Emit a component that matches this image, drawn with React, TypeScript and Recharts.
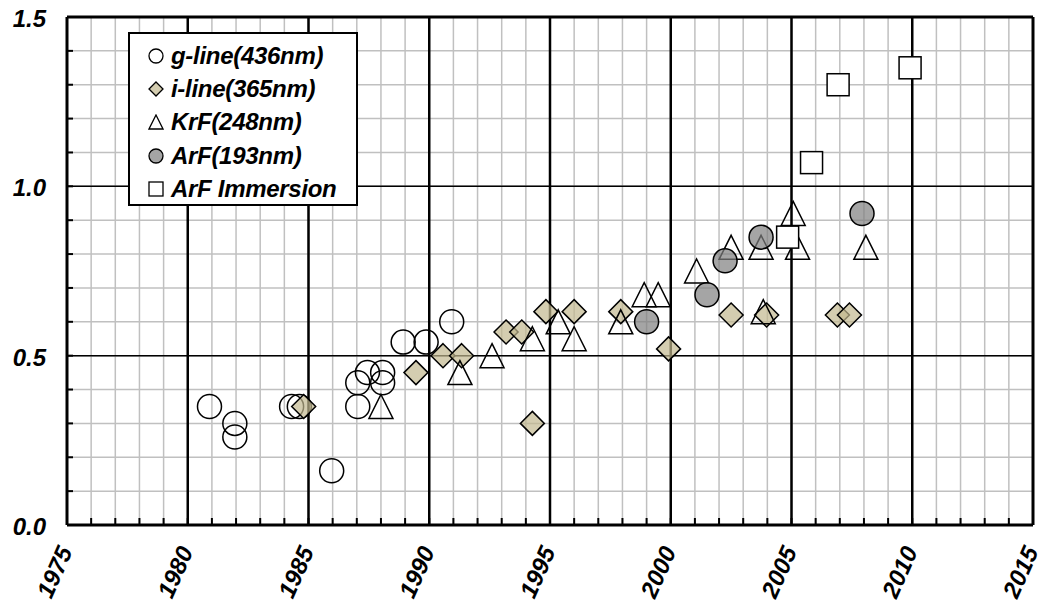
import React from "react";
import {
  ScatterChart,
  Scatter,
  XAxis,
  YAxis,
  CartesianGrid,
  ReferenceLine,
  Legend,
} from "recharts";

// ---- data (year, value) ----
const gLine = [
  { x: 1980.9, y: 0.35 },
  { x: 1981.95, y: 0.3 },
  { x: 1981.95, y: 0.26 },
  { x: 1984.3, y: 0.35 },
  { x: 1984.62, y: 0.35 },
  { x: 1985.96, y: 0.16 },
  { x: 1987.04, y: 0.42 },
  { x: 1987.04, y: 0.35 },
  { x: 1987.44, y: 0.45 },
  { x: 1988.07, y: 0.45 },
  { x: 1988.07, y: 0.42 },
  { x: 1988.92, y: 0.54 },
  { x: 1989.87, y: 0.54 },
  { x: 1990.93, y: 0.6 },
];

const iLine = [
  { x: 1984.8, y: 0.35 },
  { x: 1989.45, y: 0.45 },
  { x: 1990.57, y: 0.5 },
  { x: 1991.34, y: 0.5 },
  { x: 1993.18, y: 0.57 },
  { x: 1993.83, y: 0.57 },
  { x: 1994.27, y: 0.3 },
  { x: 1994.83, y: 0.63 },
  { x: 1996.0, y: 0.63 },
  { x: 1997.93, y: 0.63 },
  { x: 1999.91, y: 0.52 },
  { x: 2002.5, y: 0.62 },
  { x: 2003.97, y: 0.62 },
  { x: 2006.9, y: 0.62 },
  { x: 2007.4, y: 0.62 },
];

const krf = [
  { x: 1988.0, y: 0.35 },
  { x: 1991.27, y: 0.45 },
  { x: 1992.6, y: 0.5 },
  { x: 1994.27, y: 0.55 },
  { x: 1995.34, y: 0.6 },
  { x: 1996.0, y: 0.55 },
  { x: 1997.93, y: 0.6 },
  { x: 1998.9, y: 0.68 },
  { x: 1999.48, y: 0.68 },
  { x: 2001.07, y: 0.75 },
  { x: 2002.5, y: 0.82 },
  { x: 2003.74, y: 0.82 },
  { x: 2003.83, y: 0.63 },
  { x: 2005.07, y: 0.92 },
  { x: 2005.25, y: 0.82 },
  { x: 2008.08, y: 0.82 },
];

const arf = [
  { x: 1999.0, y: 0.6 },
  { x: 2001.5, y: 0.68 },
  { x: 2002.25, y: 0.78 },
  { x: 2003.74, y: 0.85 },
  { x: 2007.92, y: 0.92 },
];

const arfImmersion = [
  { x: 2004.84, y: 0.85 },
  { x: 2005.83, y: 1.07 },
  { x: 2006.93, y: 1.3 },
  { x: 2009.91, y: 1.35 },
];

const seriesNames = [
  "g-line(436nm)",
  "i-line(365nm)",
  "KrF(248nm)",
  "ArF(193nm)",
  "ArF Immersion",
];

const xTicks = [
  1975, 1976, 1977, 1978, 1979, 1980, 1981, 1982, 1983, 1984, 1985, 1986,
  1987, 1988, 1989, 1990, 1991, 1992, 1993, 1994, 1995, 1996, 1997, 1998,
  1999, 2000, 2001, 2002, 2003, 2004, 2005, 2006, 2007, 2008, 2009, 2010,
  2011, 2012, 2013, 2014, 2015,
];
const xMajor = [1980, 1985, 1990, 1995, 2000, 2005, 2010];
const yTicks = [
  0, 0.1, 0.2, 0.3, 0.4, 0.5, 0.6, 0.7, 0.8, 0.9, 1.0, 1.1, 1.2, 1.3, 1.4, 1.5,
];
const yLabeled = [0, 0.5, 1.0, 1.5];
const yMajor = [0.5, 1.0];

const FONT = "'Liberation Sans', Arial, sans-serif";

const DIAMOND_FILL = "#c2b88e";
const ARF_FILL = "#7f7f7f";

// ---- marker shapes ----
const CircleOpen = (p: any) => (
  <circle cx={p.cx} cy={p.cy} r={12} fill="none" stroke="#000" strokeWidth={1.5} />
);
const Diamond = (p: any) => (
  <polygon
    points={`${p.cx},${p.cy - 12} ${p.cx + 12},${p.cy} ${p.cx},${p.cy + 12} ${p.cx - 12},${p.cy}`}
    fill={DIAMOND_FILL}
    fillOpacity={0.7}
    stroke="#000"
    strokeWidth={1.5}
  />
);
const Triangle = (p: any) => (
  <polygon
    points={`${p.cx},${p.cy - 12} ${p.cx + 12},${p.cy + 12} ${p.cx - 12},${p.cy + 12}`}
    fill="none"
    stroke="#000"
    strokeWidth={1.5}
  />
);
const CircleGray = (p: any) => (
  <circle
    cx={p.cx}
    cy={p.cy}
    r={12}
    fill={ARF_FILL}
    fillOpacity={0.7}
    stroke="#000"
    strokeWidth={1.5}
  />
);
const Square = (p: any) => (
  <rect
    x={p.cx - 11}
    y={p.cy - 11}
    width={22}
    height={22}
    fill="#fff"
    stroke="#000"
    strokeWidth={1.5}
  />
);

// ---- ticks ----
const XTick = (props: any) => {
  const { x, y, payload } = props;
  const v = payload.value;
  const major = Math.round(v) % 5 === 0;
  const tx = x + 6;
  const ty = y + 26;
  return (
    <g>
      <line x1={x} x2={x} y1={y} y2={y - 7} stroke="#000" strokeWidth={2} />
      {major && (
        <text
          x={tx}
          y={ty}
          textAnchor="end"
          transform={`rotate(-66 ${tx} ${ty})`}
          fontFamily={FONT}
          fontWeight="bold"
          fontStyle="italic"
          fontSize={24}
          fill="#000"
        >
          {v}
        </text>
      )}
    </g>
  );
};

const YTick = (props: any) => {
  const { x, y, payload } = props;
  const v = payload.value;
  const labeled = yLabeled.some((t) => Math.abs(t - v) < 1e-6);
  return (
    <g>
      <line x1={x} x2={x + 6} y1={y} y2={y} stroke="#000" strokeWidth={2} />
      {labeled && (
        <text
          x={x - 21}
          y={y + 10}
          textAnchor="end"
          fontFamily={FONT}
          fontWeight="bold"
          fontStyle="italic"
          fontSize={24}
          fill="#000"
        >
          {v.toFixed(1)}
        </text>
      )}
    </g>
  );
};

// ---- legend ----
const legendIcons = [
  <circle cx={8} cy={8} r={7} fill="#fff" stroke="#000" strokeWidth={1.3} />,
  <polygon points="8,1 15,8 8,15 1,8" fill={DIAMOND_FILL} fillOpacity={0.7} stroke="#000" strokeWidth={1.3} />,
  <polygon points="8,1 15,15 1,15" fill="#fff" stroke="#000" strokeWidth={1.3} />,
  <circle cx={8} cy={8} r={7} fill={ARF_FILL} fillOpacity={0.7} stroke="#000" strokeWidth={1.3} />,
  <rect x={1} y={1} width={14} height={14} fill="#fff" stroke="#000" strokeWidth={1.3} />,
];

const LegendBox = () => (
  <div
    style={{
      boxSizing: "border-box",
      width: 230,
      height: 174,
      border: "2px solid #000",
      background: "#fff",
      paddingTop: 5,
      paddingLeft: 18,
    }}
  >
    {seriesNames.map((name, i) => (
      <div
        key={name}
        style={{
          display: "flex",
          alignItems: "center",
          height: 33.3,
          fontFamily: FONT,
          fontWeight: "bold",
          fontStyle: "italic",
          fontSize: 24,
          letterSpacing: -0.3,
          color: "#000",
          whiteSpace: "nowrap",
        }}
      >
        <svg width={16} height={16} style={{ marginRight: 7, flex: "none" }}>
          {legendIcons[i]}
        </svg>
        <span>{name}</span>
      </div>
    ))}
  </div>
);

export default function App() {
  return (
    <div style={{ position: "absolute", left: 0, top: 0, width: 1044, height: 606, background: "#fff" }}>
      <ScatterChart
        width={1044}
        height={606}
        margin={{ top: 17, right: 11, bottom: 1, left: 0 }}
      >
        <CartesianGrid stroke="#c0c0c0" strokeWidth={1.5} />
        <XAxis
          type="number"
          dataKey="x"
          domain={[1975, 2015]}
          ticks={xTicks}
          interval={0}
          height={80}
          tickSize={0}
          tickMargin={0}
          tickLine={false}
          axisLine={{ stroke: "#000", strokeWidth: 3 }}
          tick={<XTick />}
          allowDataOverflow
        />
        <YAxis
          type="number"
          dataKey="y"
          domain={[0, 1.5]}
          ticks={yTicks}
          interval={0}
          width={67}
          tickSize={0}
          tickMargin={0}
          tickLine={false}
          axisLine={{ stroke: "#000", strokeWidth: 3 }}
          tick={<YTick />}
          allowDataOverflow
        />
        {xMajor.map((v) => (
          <ReferenceLine key={`xm${v}`} x={v} stroke="#000" strokeWidth={2.5} />
        ))}
        {yMajor.map((v) => (
          <ReferenceLine key={`ym${v}`} y={v} stroke="#000" strokeWidth={1.5} />
        ))}
        <ReferenceLine x={2015} stroke="#000" strokeWidth={3} />
        <ReferenceLine y={1.5} stroke="#000" strokeWidth={3} />
        <Scatter name={seriesNames[0]} data={gLine} shape={CircleOpen} isAnimationActive={false} />
        <Scatter name={seriesNames[1]} data={iLine} shape={Diamond} isAnimationActive={false} />
        <Scatter name={seriesNames[2]} data={krf} shape={Triangle} isAnimationActive={false} />
        <Scatter name={seriesNames[3]} data={arf} shape={CircleGray} isAnimationActive={false} />
        <Scatter name={seriesNames[4]} data={arfImmersion} shape={Square} isAnimationActive={false} />
        <Legend
          content={<LegendBox />}
          layout="vertical"
          align="center"
          verticalAlign="middle"
          wrapperStyle={{ left: 128, top: 32, width: 230, height: 174 }}
        />
      </ScatterChart>
    </div>
  );
}
